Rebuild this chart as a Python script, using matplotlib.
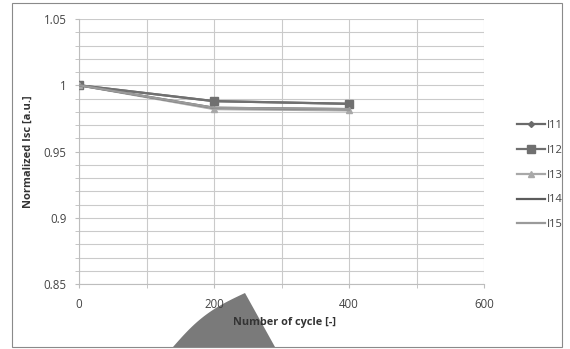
import matplotlib
matplotlib.use("Agg")
import matplotlib.pyplot as plt
import numpy as np
from matplotlib.patches import Rectangle, Polygon

plt.rcParams['font.family'] = ['Open Sans', 'DejaVu Sans']

cycles = [0, 200, 400]
series_names = ["I11", "I12", "I13", "I14", "I15"]
I11 = [1.0, 0.988, 0.986]
I12 = [1.0, 0.988, 0.986]
I13 = [1.0, 0.982, 0.981]
I14 = [1.0, 0.983, 0.982]
I15 = [1.0, 0.983, 0.982]
x_ticks = [0, 200, 400, 600]
y_ticks = [0.85, 0.9, 0.95, 1.0, 1.05]
y_tick_labels = ["0.85", "0.9", "0.95", "1", "1.05"]

styles = [
    dict(color="#6a6a6a", marker="D", ms=3, lw=1.6),
    dict(color="#707070", marker="s", ms=6, lw=1.6),
    dict(color="#a8a8a8", marker="^", ms=5, lw=1.6),
    dict(color="#5c5c5c", marker="", ms=4, lw=1.6),
    dict(color="#9a9a9a", marker="", ms=4, lw=1.6),
]

W, H = 570, 349
fig = plt.figure(figsize=(W / 100, H / 100), dpi=100)
fig.patch.set_facecolor("white")
fig.patches.append(Rectangle((12 / W, 1 - 347 / H), 550 / W, 344 / H,
                             transform=fig.transFigure, fill=False,
                             edgecolor="#8a8a8a", lw=0.8))

ax = fig.add_axes([79 / W, 1 - 284 / H, (484 - 79) / W, (284 - 19) / H])
for name, vals, st in zip(series_names, [I11, I12, I13, I14, I15], styles):
    ax.plot(cycles, vals, label=name, color=st["color"], marker=st["marker"],
            markersize=st["ms"], lw=st["lw"], zorder=3)

ax.set_xlim(0, 600)
ax.set_ylim(0.85, 1.05)
ax.set_xticks(x_ticks)
ax.set_xticks(np.arange(0, 601, 100), minor=True)
ax.set_yticks(y_ticks)
ax.set_yticklabels(y_tick_labels)
ax.set_yticks(np.arange(0.85, 1.0501, 0.01), minor=True)
ax.grid(True, which="both", color="#cacaca", lw=0.8)
ax.set_axisbelow(True)
for s in ["top", "right"]:
    ax.spines[s].set_visible(False)
for s in ["left", "bottom"]:
    ax.spines[s].set_color("#bdbdbd")
ax.tick_params(axis="both", which="both", colors="#bdbdbd", labelcolor="#444444",
               labelsize=8.3, length=3)
ax.tick_params(axis="x", pad=7)
ax.tick_params(axis="y", pad=6)
ax.set_xlabel("Number of cycle [-]", fontsize=7.8, fontweight="bold", color="#333333", labelpad=6)
ax.xaxis.set_label_coords(0.508, -0.125)
ax.set_ylabel("Normalized Isc [a.u.]", fontsize=8, fontweight="bold", color="#333333", labelpad=7)

fig.legend(*ax.get_legend_handles_labels(), loc="center left",
           bbox_to_anchor=(517 / W, 1 - 175 / H), frameon=False, fontsize=8,
           handlelength=2.5, labelspacing=1.25, handletextpad=0.15, labelcolor="#444444",
           borderaxespad=0, borderpad=0)

# gray wedge overlay (behind the axis label)
t = np.linspace(0, 1, 30)
x0, y0, x1, y1 = 173, 347, 245, 293
lx = x0 + (x1 - x0) * t
ly = y0 + (y1 - y0) * t
bulge = 6 * np.sin(np.pi * t)
nx, ny = (y1 - y0), -(x1 - x0)
nrm = np.hypot(nx, ny)
nx, ny = nx / nrm, ny / nrm
arc_x = lx + nx * bulge
arc_y = ly + ny * bulge
pts = list(zip(arc_x, arc_y)) + [(275, 347)]
pts = [(px / W, 1 - py / H) for px, py in pts]
fig.patches.append(Polygon(pts, closed=True, transform=fig.transFigure,
                           facecolor="#7a7a7a", edgecolor="none", zorder=-1))

fig.savefig("out.png", dpi=100, facecolor="white")
